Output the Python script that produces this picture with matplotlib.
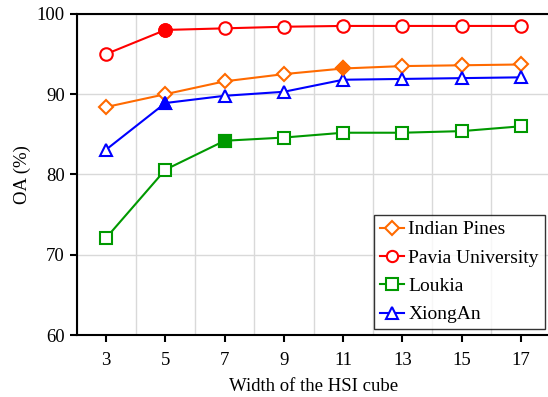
import matplotlib
matplotlib.use("Agg")
import matplotlib.pyplot as plt

plt.rcParams["font.family"] = ["Liberation Serif", "DejaVu Serif"]

widths = [3, 5, 7, 9, 11, 13, 15, 17]
indian_pines = [88.4, 90.0, 91.6, 92.5, 93.2, 93.5, 93.6, 93.7]
pavia = [95.0, 98.0, 98.2, 98.4, 98.5, 98.5, 98.5, 98.5]
loukia = [72.1, 80.6, 84.2, 84.6, 85.2, 85.2, 85.4, 86.0]
xiongan = [83.1, 88.9, 89.8, 90.3, 91.8, 91.9, 92.0, 92.1]

# index of the chosen (filled) point for each dataset
series = [
	("Indian Pines", indian_pines, "#FF6A00", "D", 4, 7.5),
	("Pavia University", pavia, "#FF0000", "o", 1, 9),
	("Loukia", loukia, "#009900", "s", 2, 9),
	("XiongAn", xiongan, "#0000FF", "^", 1, 9),
]

fig = plt.figure(figsize=(5.48, 3.97), dpi=100)
# right spine falls just outside the canvas, as in the original
ax = fig.add_axes([0.1396, 0.156, 0.865, 0.809])

for name, vals, color, marker, best, ms in series:
	ax.plot(widths, vals, color=color, marker=marker, markersize=ms,
		markerfacecolor="white", markeredgewidth=1.5, linewidth=1.5, label=name, zorder=3)
	ax.plot(widths[best], vals[best], color=color, marker=marker, markersize=ms,
		markerfacecolor=color, markeredgewidth=1.5, linestyle="none", zorder=4)

ax.set_xlim(2, 18)
ax.set_ylim(60, 100)
ax.set_xticks(widths)
ax.set_xticks(range(2, 19, 2), minor=True)
ax.set_yticks([60, 70, 80, 90, 100])
ax.grid(True, which="minor", axis="x", color="#d9d9d9", linewidth=1)
ax.grid(True, which="major", axis="y", color="#d9d9d9", linewidth=1)
ax.tick_params(axis="x", which="minor", length=0)
ax.tick_params(which="major", direction="out", length=5, width=1.5, labelsize=13.5)
ax.tick_params(axis="x", which="major", pad=7.5)
for sp in ax.spines.values():
	sp.set_linewidth(1.5)

ax.set_xlabel("Width of the HSI cube", fontsize=13.5, labelpad=6)
ax.set_ylabel("OA (%)", fontsize=13.5)

leg = ax.legend(loc="lower right", fontsize=14, frameon=True, fancybox=False,
	edgecolor="black", handlelength=1.25, handletextpad=0.2, borderpad=0.3,
	labelspacing=0.55, borderaxespad=0.3, markerscale=0.9)
leg.get_frame().set_linewidth(1.0)

fig.savefig("out.png", dpi=100)
